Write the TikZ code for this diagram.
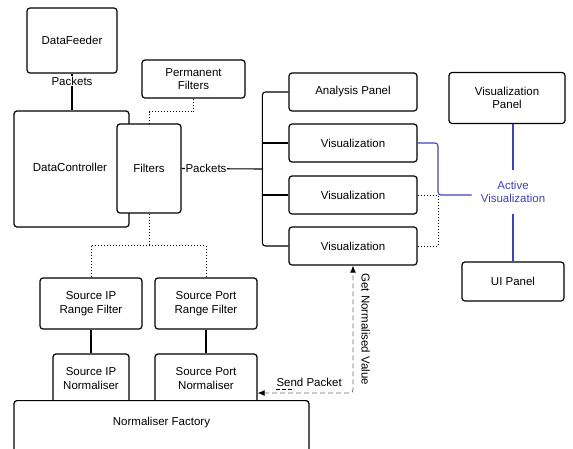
\documentclass[tikz,border=0pt]{standalone}
\usepackage{xcolor}
\usepackage{fontspec}
\setmainfont{Liberation Sans}
\usetikzlibrary{arrows.meta}

\definecolor{activeblue}{RGB}{64,64,184}
\definecolor{linkgray}{RGB}{110,110,110}

\tikzset{
	box/.style = {draw, rounded corners=3pt, line width=1.2pt, fill=white,
		align=center, inner sep=0pt},
	link/.style = {line width=1.1pt},
	dots/.style = {line width=1pt, dotted},
	activelink/.style = {line width=1.1pt, draw=activeblue, rounded corners=3pt}
}

\begin{document}
\begin{tikzpicture}[x=1pt, y=-1pt, font=\fontsize{11.5}{13.5}\selectfont]
				% page area
				\useasboundingbox (0,0) rectangle (573,448);
				
				% boxes
				\node[box, minimum width=90, minimum height=65] (feeder) at (72,40.5) {DataFeeder};
				\node[box, minimum width=115, minimum height=116] (ctrl) at (71.5,169) {};
				\node (ctrltext) at (70,167) {DataController};
				\node[box, minimum width=64, minimum height=89] (filters) at (149,168.5) {Filters};
				\node[box, minimum width=103, minimum height=38] (perm) at (193.5,79) {Permanent\\Filters};
				
				\node[box, minimum width=128, minimum height=38] (analysis) at (353,92) {Analysis Panel};
				\node[box, minimum width=128, minimum height=38] (vis1) at (353,143) {Visualization};
				\node[box, minimum width=128, minimum height=38] (vis2) at (353,195) {Visualization};
				\node[box, minimum width=128, minimum height=38] (vis3) at (353,246) {Visualization};
				
				\node[box, minimum width=116, minimum height=51] (vispanel) at (507,98) {Visualization\\Panel};
				\node[align=center, text=activeblue, inner xsep=9pt, inner ysep=11pt] (active) at (513,192) {Active\\Visualization};
				\node[box, minimum width=102, minimum height=39] (uipanel) at (513,281.5) {UI Panel};
				
				\node[box, minimum width=102, minimum height=51] (ipfilter) at (91,303.5) {Source IP\\Range Filter};
				\node[box, minimum width=102, minimum height=51] (portfilter) at (206,303.5) {Source Port\\Range Filter};
				\node[box, minimum width=76, minimum height=52] (ipnorm) at (91,380) {\raisebox{4pt}{\begin{tabular}{@{}c@{}}Source IP\\Normaliser\end{tabular}}};
				\node[box, minimum width=102, minimum height=52] (portnorm) at (206,380) {\raisebox{4pt}{\begin{tabular}{@{}c@{}}Source Port\\Normaliser\end{tabular}}};
				\node[box, minimum width=295, minimum height=70, anchor=north] (factory) at (161.5,400) {};
				\node (factorytext) at (161.5,423) {Normaliser Factory};
				
				% connectors
				\draw[link] (feeder.south) -- node[fill=white, pos=.2, inner sep=1pt] (packetsin) {Packets} (ctrl.north -| feeder.south);
				\draw[dots] (perm.south) -- ++(0,13) -| (filters.north);
				
				\coordinate (bus) at (263,169);
				\draw[link] (filters.east) -- node[fill=white, pos=.3, inner sep=1pt] (packetsout) {Packets} (bus);
				\draw[link, rounded corners=3pt] (analysis.west) -- ++(-26,0) |- (vis3.west);
				\draw[link] (vis1.west) -- ++(-26,0);
				\draw[link] (vis2.west) -- ++(-26,0);
				
				\coordinate (join) at (438,195);
				\draw[activelink] (vis1.east) -| (join) -- (join -| active.west);
				\draw[activelink] (vispanel.south -| active.north) -- (active.north);
				\draw[activelink] (active.south) -- (uipanel.north);
				\draw[dots] (vis2.east) -- (join);
				\draw[dots] (vis3.east) -| (join);
				
				\draw[dots] (filters.south) -- ++(0,32) coordinate (split);
				\draw[dots] (ipfilter.north) |- (split) -| (portfilter.north);
				\draw[link] (ipfilter.south) -- (ipnorm.north);
				\draw[link] (portfilter.south) -- (portnorm.north);
				
				\draw[linkgray, line width=.9pt, dash pattern=on 5pt off 3pt, rounded corners=3pt, {Latex[black,length=7pt,width=6pt]}-{Latex[black,length=7pt,width=6pt]}]
					([yshift=-13pt]portnorm.east) -| node[above=3pt, pos=.27, text=black] (sendlbl) {Send Packet}
					node[pos=.75, rotate=-90, anchor=south, text=black, inner sep=8pt] (getlbl) {Get Normalised Value} (vis3.south);
				\draw[line width=.9pt, dash pattern=on 4pt off 2pt] ([xshift=3pt,yshift=1pt]sendlbl.south west) -- ++(18,0);
				
			\end{tikzpicture}
\end{document}
